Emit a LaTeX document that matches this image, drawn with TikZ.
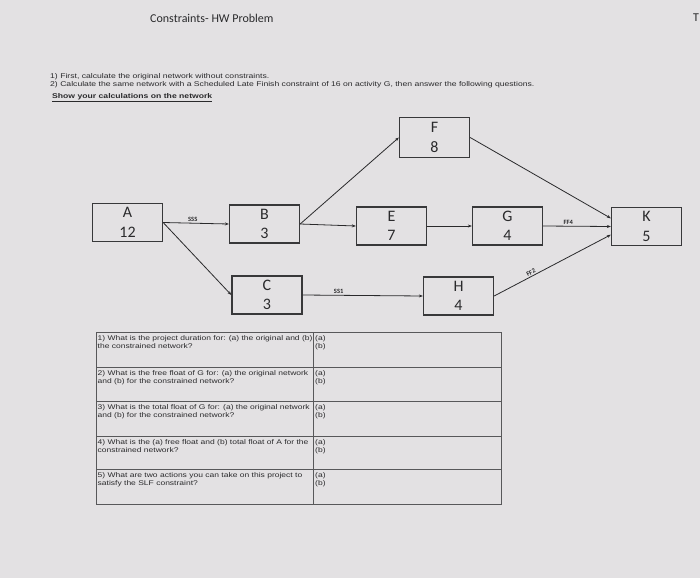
\documentclass[tikz,border=0pt]{standalone}
\usepackage{fontspec}
\setmainfont{Liberation Sans}
\newfontfamily\calfont{Carlito}
\newfontfamily\widefont[FakeStretch=1.25]{Liberation Sans}
\usetikzlibrary{arrows.meta}
\definecolor{bg}{HTML}{E3E1E3}
\definecolor{ink}{HTML}{2A2A2C}
\definecolor{boxline}{HTML}{38383A}
\definecolor{tline}{HTML}{58585A}
\begin{document}
\begin{tikzpicture}[x=1pt,y=-1pt,
  actbox/.style={draw=boxline, line width=1.3pt, minimum width=70pt, minimum height=38pt,
    inner sep=0pt, align=center, text=ink, font=\calfont\fontsize{16}{19.6}\selectfont},
  conn/.style={draw=ink, line width=0.8pt, -{Stealth[length=4pt,width=3pt]}},
  lag/.style={font=\calfont\fontsize{6.5}{7}\selectfont\bfseries, text=ink, inner sep=1.2pt},
  qtext/.style={anchor=north west, inner sep=0pt, align=left, text=ink,
    font=\widefont\fontsize{6.8}{8.3}\selectfont},
  instr/.style={anchor=west, inner sep=0pt, text=ink, font=\widefont\fontsize{6.9}{8}\selectfont},
  tab/.style={draw=tline, line width=0.9pt}]
\useasboundingbox (0,0) rectangle (700,578);
\fill[bg] (0,0) rectangle (700,578);

% header texts
\node[anchor=west, inner sep=0pt, text=ink, font=\calfont\fontsize{12}{14}\selectfont] (title) at (150,18) {Constraints- HW Problem};
\node[anchor=west, inner sep=0pt, text=ink, font=\calfont\fontsize{12}{14}\selectfont] (tcut) at (693,18) {T};
\node[instr] (i1) at (50,77) {1) First, calculate the original network without constraints.};
\node[instr] (i2) at (50,84.5) {2) Calculate the same network with a Scheduled Late Finish constraint of 16 on activity G, then answer the following questions.};
\node[instr, font=\widefont\fontsize{6.9}{8}\selectfont\bfseries] (i3) at (52,98) {\underline{Show your calculations on the network}};

% activity boxes
\node[actbox] (A) at (127.5,222.5) {A\\12};
\node[actbox] (B) at (264.5,224) {B\\3};
\node[actbox] (C) at (267,295) {C\\3};
\node[actbox, minimum height=40pt] (F) at (434.5,137.5) {F\\8};
\node[actbox] (E) at (391.5,226) {E\\7};
\node[actbox] (G) at (507.5,226) {G\\4};
\node[actbox] (K) at (646.5,226.5) {K\\5};
\node[actbox] (H) at (458.5,296) {H\\4};

% connectors
\draw[conn] (A.east) -- node[lag, above, pos=0.45] {SSS} (B.west);
\draw[conn] (A.east) -- (C.west);
\draw[conn] (B.east) -- (F.west);
\draw[conn] (B.east) -- (E.west);
\draw[conn] (C.east) -- node[lag, above, pos=0.3] {SS1} (H.west);
\draw[conn] (E.east) -- (G.west);
\draw[conn] (F.east) -- (K.167);
\draw[conn] (G.east) -- node[lag, above, pos=0.37] {FF4} (K.west);
\draw[conn] (H.east) -- node[lag, above, sloped, pos=0.33] {FF2} (K.193);

% question table
\draw[tab] (96,332) rectangle (501,504);
\draw[tab] (313,332) -- (313,504);
\draw[tab] (96,367) -- (501,367);
\draw[tab] (96,401) -- (501,401);
\draw[tab] (96,436) -- (501,436);
\draw[tab] (96,469) -- (501,469);

\node[qtext] (q1) at (97.5,335) {1) What is the project duration for: (a) the original and (b)\\the constrained network?};
\node[qtext] (q2) at (97.5,370) {2) What is the free float of G for: (a) the original network\\and (b) for the constrained network?};
\node[qtext] (q3) at (97.5,404) {3) What is the total float of G for: (a) the original network\\and (b) for the constrained network?};
\node[qtext] (q4) at (97.5,439) {4) What is the (a) free float and (b) total float of A for the\\constrained network?};
\node[qtext] (q5) at (97.5,472) {5) What are two actions you can take on this project to\\satisfy the SLF constraint?};

\node[qtext] (a1) at (315,335) {(a)\\(b)};
\node[qtext] (a2) at (315,370) {(a)\\(b)};
\node[qtext] (a3) at (315,404) {(a)\\(b)};
\node[qtext] (a4) at (315,439) {(a)\\(b)};
\node[qtext] (a5) at (315,472) {(a)\\(b)};
\end{tikzpicture}
\end{document}
